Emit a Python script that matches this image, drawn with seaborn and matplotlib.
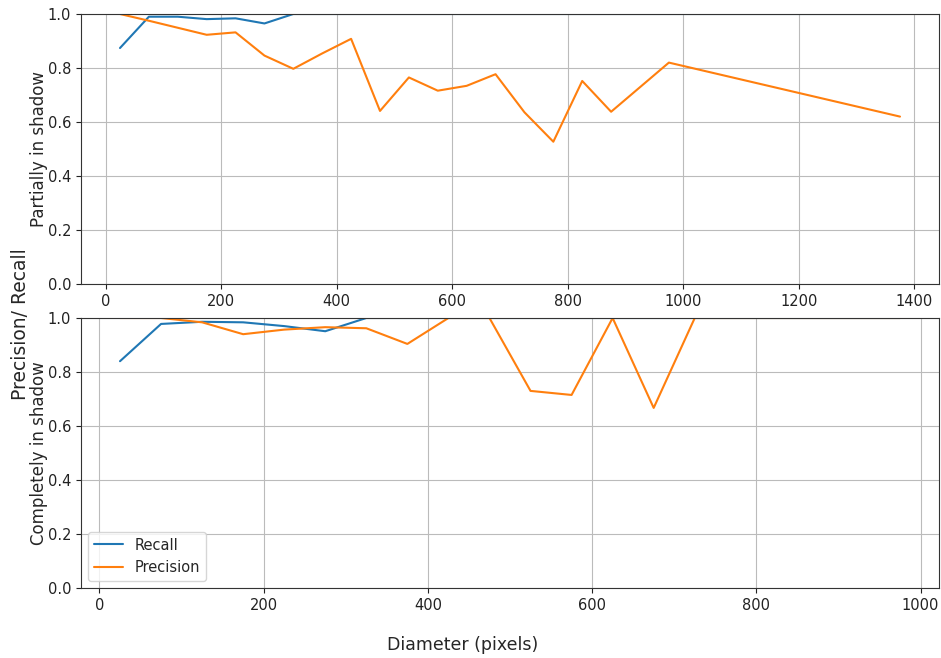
import pandas as pd
import seaborn as sns
import matplotlib.pyplot as plt

# partially in shadow
partial_diam = [25, 75, 125, 175, 225, 275, 325, 375, 425, 475, 525, 575, 625, 675,
                725, 775, 825, 875, 975, 1375]
partial_recall = [0.874, 0.99, 0.99, 0.981, 0.984, 0.965, 1.0, 1.0, 1.0, 1.0, 1.0, 1.0,
                  1.0, 1.0, 1.0, 1.0, 1.0, 1.0, 1.0, 1.0]
partial_precision = [1.0, 0.975, 0.949, 0.923, 0.932, 0.846, 0.797, 0.854, 0.908, 0.641,
                     0.765, 0.716, 0.734, 0.777, 0.636, 0.527, 0.752, 0.638, 0.82, 0.62]

# completely in shadow
complete_diam = [25, 75, 125, 175, 225, 275, 325, 375, 425, 475, 525, 575, 625, 675,
                 725, 775, 825, 875, 925, 975]
complete_recall = [0.84, 0.978, 0.986, 0.984, 0.97, 0.951, 1.0, 1.0, 1.0, 1.0, 1.0, 1.0,
                   1.0, 1.0, 1.0, 1.0, 1.0, 1.0, 1.0, 1.0]
complete_precision = [1.0, 1.0, 0.984, 0.94, 0.957, 0.966, 0.962, 0.904, 1.0, 1.0, 0.73,
                      0.715, 1.0, 0.667, 1.0, 1.0, 1.0, 1.0, 1.0, 1.0]


def to_long(diam, recall, precision):
    df = pd.DataFrame({"Diameter": diam, "Recall": recall, "Precision": precision})
    return df.melt(id_vars="Diameter", var_name="Metric", value_name="Value")


sns.set_style("ticks", {"axes.grid": True, "grid.color": ".75"})
plt.rcParams["font.family"] = ["DejaVu Sans"]
plt.rcParams["axes.edgecolor"] = "#333333"

palette = {"Recall": "tab:blue", "Precision": "tab:orange"}

fig, (ax1, ax2) = plt.subplots(2, 1, figsize=(9.41, 6.58), dpi=100)
fig.subplots_adjust(left=81 / 941, right=939 / 941, top=1 - 14 / 658,
                    bottom=1 - 588 / 658, hspace=34 / 270)

sns.lineplot(data=to_long(partial_diam, partial_recall, partial_precision),
             x="Diameter", y="Value", hue="Metric", palette=palette, ax=ax1,
             linewidth=1.5, legend=False)
sns.lineplot(data=to_long(complete_diam, complete_recall, complete_precision),
             x="Diameter", y="Value", hue="Metric", palette=palette, ax=ax2,
             linewidth=1.5)

for ax, label in [(ax1, "Partially in shadow"), (ax2, "Completely in shadow")]:
    ax.set_ylim(0, 1)
    ax.set_xlabel("")
    ax.set_ylabel(label, fontsize=12)
    ax.yaxis.set_label_coords(-0.039, 0.5)
    ax.tick_params(labelsize=10.5, direction="out", length=3.5, pad=3.5,
                   colors="#222222")
    ax.grid(True, color="#bbbbbb", linewidth=0.8)

ax2.legend(loc="lower left", fontsize=10.5, title=None)

fig.text(0.022, 0.508, "Precision/ Recall", rotation=90, ha="center", va="center",
         fontsize=13.5)
fig.text(0.492, 0.02, "Diameter (pixels)", ha="center", va="center", fontsize=12.5)

fig.savefig("out.png", dpi=100)
